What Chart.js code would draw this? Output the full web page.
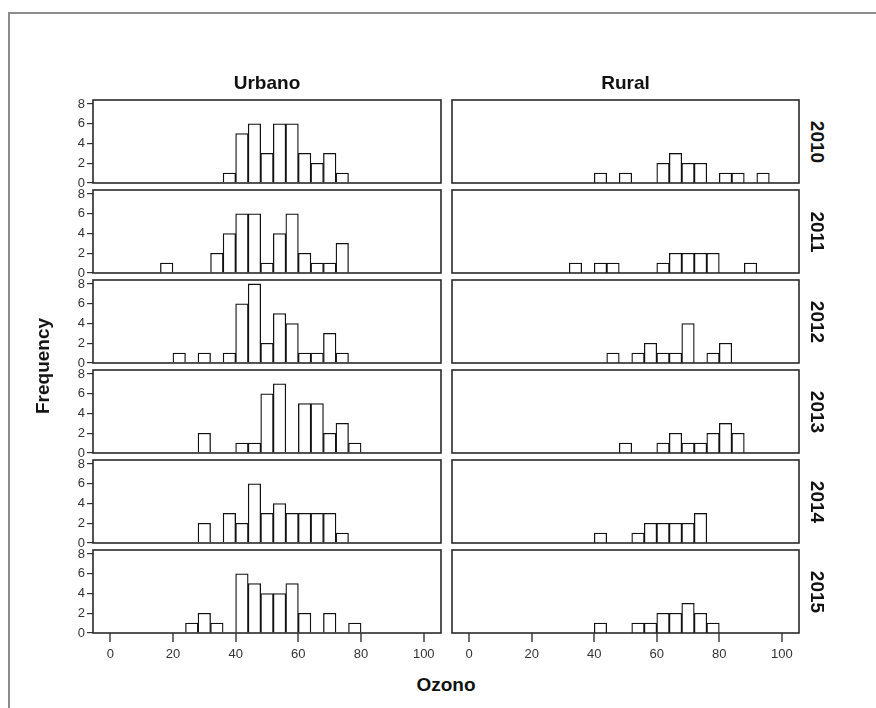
<!DOCTYPE html>
<html>
<head>
<meta charset="utf-8">
<script src="https://cdn.jsdelivr.net/npm/chart.js@4.4.0/dist/chart.umd.min.js"></script>
<style>
  body { margin: 0; background: #fff; width: 876px; height: 708px; overflow: hidden; position: relative;
         font-family: "Liberation Sans", Arial, sans-serif; }
  #frame { position: absolute; left: 8px; top: 12px; width: 900px; height: 720px; border: 2px solid #8c8c8c; }
  canvas { position: absolute; }
  .lbl { position: absolute; font-weight: bold; font-size: 19px; color: #111; white-space: nowrap; }
</style>
</head>
<body>
<div id="frame"></div>
<script>
var areas = ["Urbano", "Rural"];
var years = ["2010", "2011", "2012", "2013", "2014", "2015"];

// lower edge of each ozone bin (bins are 4 units wide)
var binStart = [16, 20, 24, 28, 32, 36, 40, 44, 48, 52, 56, 60, 64, 68, 72, 76, 80, 84, 88, 92];
var binWidth = 4;

var urbano2010 = [0, 0, 0, 0, 0, 1, 5, 6, 3, 6, 6, 3, 2, 3, 1, 0, 0, 0, 0, 0];
var urbano2011 = [1, 0, 0, 0, 2, 4, 6, 6, 1, 4, 6, 2, 1, 1, 3, 0, 0, 0, 0, 0];
var urbano2012 = [0, 1, 0, 1, 0, 1, 6, 8, 2, 5, 4, 1, 1, 3, 1, 0, 0, 0, 0, 0];
var urbano2013 = [0, 0, 0, 2, 0, 0, 1, 1, 6, 7, 0, 5, 5, 2, 3, 1, 0, 0, 0, 0];
var urbano2014 = [0, 0, 0, 2, 0, 3, 2, 6, 3, 4, 3, 3, 3, 3, 1, 0, 0, 0, 0, 0];
var urbano2015 = [0, 0, 1, 2, 1, 0, 6, 5, 4, 4, 5, 2, 0, 2, 0, 1, 0, 0, 0, 0];

var rural2010 = [0, 0, 0, 0, 0, 0, 1, 0, 1, 0, 0, 2, 3, 2, 2, 0, 1, 1, 0, 1];
var rural2011 = [0, 0, 0, 0, 1, 0, 1, 1, 0, 0, 0, 1, 2, 2, 2, 2, 0, 0, 1, 0];
var rural2012 = [0, 0, 0, 0, 0, 0, 0, 1, 0, 1, 2, 1, 1, 4, 0, 1, 2, 0, 0, 0];
var rural2013 = [0, 0, 0, 0, 0, 0, 0, 0, 1, 0, 0, 1, 2, 1, 1, 2, 3, 2, 0, 0];
var rural2014 = [0, 0, 0, 0, 0, 0, 1, 0, 0, 1, 2, 2, 2, 2, 3, 0, 0, 0, 0, 0];
var rural2015 = [0, 0, 0, 0, 0, 0, 1, 0, 0, 1, 1, 2, 2, 3, 2, 1, 0, 0, 0, 0];

var xTicks = [0, 20, 40, 60, 80, 100];
var yTicks = [0, 2, 4, 6, 8];

var seriesByArea = [
    [urbano2010, urbano2011, urbano2012, urbano2013, urbano2014, urbano2015],
    [rural2010, rural2011, rural2012, rural2013, rural2014, rural2015]
];

// panel grid
var colLeft = [93, 452];
var colWidth = [348, 347];
var rowTop = 100, rowStep = 90, panelH = 83;
var xMin = -5.5, xMax = 105.5, yMax = 8.4;
var padV = 12;

var tickFont = { family: "'Liberation Sans', Arial, sans-serif", size: 13 };

var panelFrame = {
    id: "panelFrame",
    afterDatasetsDraw: function (chart) {
        var a = chart.chartArea, ctx = chart.ctx;
        ctx.save();
        ctx.strokeStyle = "#2a2a2a";
        ctx.lineWidth = 1.6;
        ctx.strokeRect(a.left, a.top, a.right - a.left, a.bottom - a.top);
        ctx.restore();
    }
};

function addLabel(text, x, y, rot) {
    var el = document.createElement("div");
    el.className = "lbl";
    el.textContent = text;
    el.style.left = x + "px";
    el.style.top = y + "px";
    el.style.transform = "translate(-50%,-50%) rotate(" + rot + "deg)";
    document.body.appendChild(el);
}

function makePanel(c, r) {
    var showY = c === 0;
    var showX = r === years.length - 1;
    var padL = showY ? 40 : 4;
    var padB = showX ? 36 : padV;

    var cv = document.createElement("canvas");
    cv.width = colWidth[c] + padL + 4;
    cv.height = panelH + padV + padB;
    cv.style.left = (colLeft[c] - padL) + "px";
    cv.style.top = (rowTop + r * rowStep - padV) + "px";
    document.body.appendChild(cv);

    var counts = seriesByArea[c][r];
    var points = binStart.map(function (b, i) {
        return { x: b + binWidth / 2, y: counts[i] };
    });

    new Chart(cv, {
        type: "bar",
        data: {
            datasets: [{
                data: points,
                backgroundColor: "#fff",
                borderColor: "#111",
                borderWidth: 1.3,
                barPercentage: 1,
                categoryPercentage: 1
            }]
        },
        options: {
            responsive: false,
            animation: false,
            layout: { padding: { left: showY ? 0 : 4, right: 4, top: padV, bottom: showX ? 2 : padV } },
            plugins: { legend: { display: false }, tooltip: { enabled: false } },
            scales: {
                x: {
                    type: "linear",
                    min: xMin,
                    max: xMax,
                    offset: false,
                    display: showX,
                    grid: { offset: false, drawOnChartArea: false, tickLength: 9, color: "#707070", lineWidth: 2 },
                    border: { display: false },
                    ticks: { font: tickFont, color: "#333", padding: 5, maxRotation: 0 },
                    afterBuildTicks: function (s) {
                        s.ticks = xTicks.map(function (v) { return { value: v }; });
                    },
                    afterFit: function (s) { if (showX) s.height = 34; }
                },
                y: {
                    min: 0,
                    max: yMax,
                    display: showY,
                    grid: { drawOnChartArea: false, tickLength: 6, color: "#333", lineWidth: 1.2 },
                    border: { display: false },
                    ticks: { font: tickFont, color: "#333", padding: 2 },
                    afterBuildTicks: function (s) {
                        s.ticks = yTicks.map(function (v) { return { value: v }; });
                    },
                    afterFit: function (s) { if (showY) s.width = 40; }
                }
            }
        },
        plugins: [panelFrame]
    });
}

for (var c = 0; c < areas.length; c++) {
    for (var r = 0; r < years.length; r++) {
        makePanel(c, r);
    }
    addLabel(areas[c], colLeft[c] + colWidth[c] / 2, 83, 0);
}
for (var r = 0; r < years.length; r++) {
    addLabel(years[r], 817, rowTop + r * rowStep + panelH / 2, 90);
}
addLabel("Frequency", 43, 366, -90);
addLabel("Ozono", 446, 685, 0);
</script>
</body>
</html>
